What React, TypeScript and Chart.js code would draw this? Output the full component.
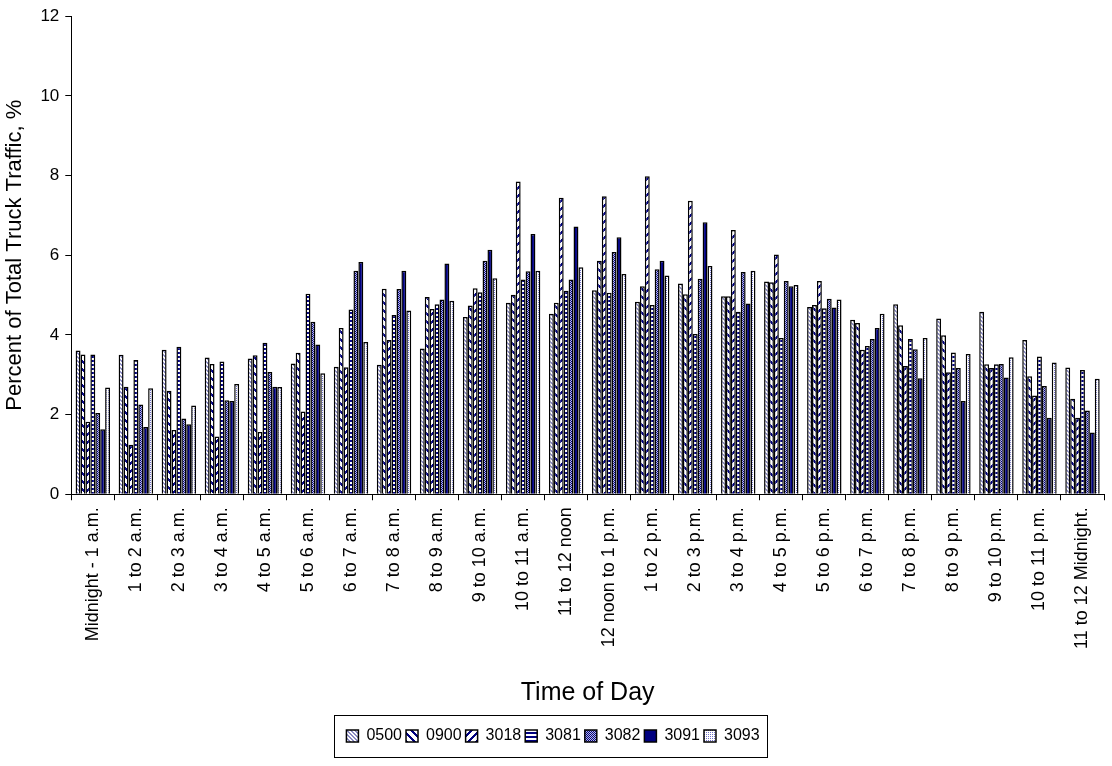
import React, { useEffect, useRef } from "react";
import { Chart, registerables } from "chart.js";

Chart.register(...registerables);

const categories = [
  "Midnight - 1 a.m.", "1 to 2 a.m.", "2 to 3 a.m.", "3 to 4 a.m.", "4 to 5 a.m.", "5 to 6 a.m.",
  "6 to 7 a.m.", "7 to 8 a.m.", "8 to 9 a.m.", "9 to 10 a.m.", "10 to 11 a.m.", "11 to 12 noon",
  "12 noon to 1 p.m.", "1 to 2 p.m.", "2 to 3 p.m.", "3 to 4 p.m.", "4 to 5 p.m.", "5 to 6 p.m.",
  "6 to 7 p.m.", "7 to 8 p.m.", "8 to 9 p.m.", "9 to 10 p.m.", "10 to 11 p.m.", "11 to 12 Midnight.",
];

const seriesNames = ["0500", "0900", "3018", "3081", "3082", "3091", "3093"];

const s0500 = [3.61, 3.50, 3.63, 3.43, 3.41, 3.28, 3.20, 3.25, 3.66, 4.45, 4.81, 4.53, 5.12, 4.83, 5.29, 4.97, 5.34, 4.70, 4.38, 4.77, 4.41, 4.58, 3.87, 3.18];
const s0900 = [3.51, 2.70, 2.60, 3.27, 3.49, 3.55, 4.17, 5.16, 4.95, 4.74, 5.01, 4.81, 5.86, 5.22, 5.02, 4.97, 5.32, 4.75, 4.30, 4.24, 3.99, 3.26, 2.96, 2.40];
const s3018 = [1.82, 1.24, 1.61, 1.45, 1.56, 2.08, 3.19, 3.87, 4.65, 5.17, 7.85, 7.44, 7.48, 7.98, 7.37, 6.63, 6.02, 5.35, 3.63, 3.22, 3.06, 3.17, 2.48, 1.92];
const s3081 = [3.51, 3.37, 3.70, 3.33, 3.80, 5.03, 4.64, 4.50, 4.77, 5.07, 5.39, 5.11, 5.06, 4.75, 4.02, 4.58, 3.92, 4.67, 3.72, 3.90, 3.56, 3.26, 3.46, 3.12];
const s3082 = [2.04, 2.25, 1.90, 2.36, 3.07, 4.33, 5.61, 5.15, 4.89, 5.86, 5.60, 5.39, 6.08, 5.65, 5.41, 5.58, 5.35, 4.91, 3.90, 3.64, 3.17, 3.27, 2.72, 2.10];
const s3091 = [1.63, 1.69, 1.76, 2.34, 2.70, 3.76, 5.83, 5.61, 5.79, 6.14, 6.53, 6.72, 6.45, 5.86, 6.83, 4.79, 5.22, 4.69, 4.17, 2.91, 2.34, 2.93, 1.92, 1.55];
const s3093 = [2.68, 2.66, 2.23, 2.77, 2.69, 3.04, 3.82, 4.61, 4.86, 5.42, 5.61, 5.70, 5.53, 5.49, 5.73, 5.61, 5.25, 4.89, 4.53, 3.92, 3.52, 3.44, 3.31, 2.90];

const yTicks = [0, 2, 4, 6, 8, 10, 12];

const NAVY = "#000080";
const FONT = "'Liberation Sans', Arial, sans-serif";

function makePattern(w: number, h: number, fn: (x: number, y: number) => string | null) {
  const c = document.createElement("canvas");
  c.width = w;
  c.height = h;
  const ctx = c.getContext("2d")!;
  ctx.fillStyle = "#ffffff";
  ctx.fillRect(0, 0, w, h);
  for (let y = 0; y < h; y++) {
    for (let x = 0; x < w; x++) {
      const col = fn(x, y);
      if (col) {
        ctx.fillStyle = col;
        ctx.fillRect(x, y, 1, 1);
      }
    }
  }
  return ctx.createPattern(c, "repeat")!;
}

function buildPatterns() {
  return [
    makePattern(4, 4, (x, y) => ((((x - y) % 4) + 4) % 4 < 2 ? "#8a8ac4" : null)),
    makePattern(8, 8, (x, y) => ((((x - y) % 8) + 8) % 8 < 3 ? NAVY : null)),
    makePattern(8, 8, (x, y) => ((x + y) % 8 < 3 ? NAVY : null)),
    makePattern(4, 4, (x, y) => (y % 4 < 2 ? NAVY : null)),
    makePattern(2, 2, (x, y) => ((x + y) % 2 === 0 ? NAVY : "#b8b8e0")),
    NAVY,
    makePattern(2, 2, (x, y) => (x % 2 === 0 && y % 2 === 0 ? "#6f6fc8" : null)),
  ];
}

const legendBox = {
  id: "legendBox",
  afterDraw(chart: any) {
    const lg = chart.legend;
    if (!lg || !lg.legendHitBoxes || !lg.legendHitBoxes.length) return;
    const boxes = lg.legendHitBoxes;
    let l = Infinity, r = -Infinity, t = Infinity, b = -Infinity;
    for (const hb of boxes) {
      l = Math.min(l, hb.left);
      r = Math.max(r, hb.left + hb.width);
      t = Math.min(t, hb.top);
      b = Math.max(b, hb.top + hb.height);
    }
    const ctx = chart.ctx;
    ctx.save();
    ctx.strokeStyle = "#000";
    ctx.lineWidth = 1;
    ctx.strokeRect(Math.round(l - 12) + 0.5, Math.round(t - 13) + 0.5, Math.round(r - l + 20), Math.round(b - t + 26));
    ctx.restore();
  },
};

export default function App() {
  const ref = useRef<HTMLCanvasElement>(null);

  useEffect(() => {
    document.body.style.margin = "0";
    const patterns = buildPatterns();
    const seriesData = [s0500, s0900, s3018, s3081, s3082, s3091, s3093];
    const chart = new Chart(ref.current!, {
      type: "bar",
      data: {
        labels: categories,
        datasets: seriesNames.map((name, i) => ({
          label: name,
          data: seriesData[i],
          backgroundColor: patterns[i] as any,
          borderColor: "#000",
          borderWidth: 1.5,
          categoryPercentage: 0.8,
          barPercentage: 1.0,
        })),
      },
      options: {
        responsive: false,
        animation: false,
        layout: { padding: { top: 11, right: 8, left: 2, bottom: 12 } },
        scales: {
          x: {
            grid: { offset: true, drawOnChartArea: false, drawTicks: true, tickLength: 6, color: "#000" },
            border: { color: "#000", width: 1 },
            ticks: {
              autoSkip: false,
              maxRotation: 90,
              minRotation: 90,
              color: "#000",
              padding: 7,
              font: { family: FONT, size: 18 },
            },
            title: {
              display: true,
              text: "Time of Day",
              color: "#000",
              font: { family: FONT, size: 25 },
              padding: { top: 22, bottom: 16 },
            },
          },
          y: {
            min: 0,
            max: 12,
            afterBuildTicks: (axis: any) => {
              axis.ticks = yTicks.map((v) => ({ value: v }));
            },
            grid: { drawOnChartArea: false, drawTicks: true, tickLength: 6, color: "#000" },
            border: { color: "#000", width: 1 },
            ticks: { color: "#000", padding: 6, font: { family: FONT, size: 17 } },
            title: {
              display: true,
              text: "Percent of Total Truck Traffic, %",
              color: "#000",
              font: { family: FONT, size: 22 },
              padding: { top: 0, bottom: 6 },
            },
          },
        },
        plugins: {
          legend: {
            position: "bottom",
            labels: {
              boxWidth: 12,
              boxHeight: 12,
              color: "#000",
              padding: 4,
              font: { family: FONT, size: 16 },
            },
          },
          tooltip: { enabled: false },
        },
      },
      plugins: [legendBox],
    });
    return () => chart.destroy();
  }, []);

  return (
    <div style={{ width: 1112, height: 766, background: "#fff" }}>
      <canvas ref={ref} width={1112} height={766} style={{ display: "block" }} />
    </div>
  );
}
